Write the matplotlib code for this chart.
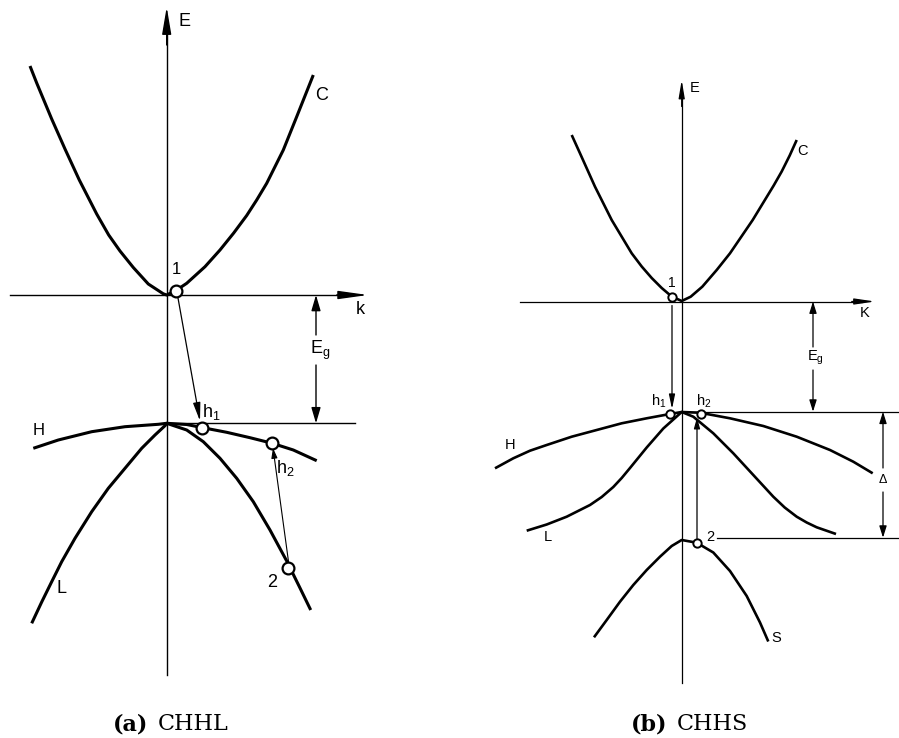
import matplotlib
matplotlib.use("Agg")
import matplotlib.pyplot as plt

plt.rcParams["font.family"] = ["Liberation Sans", "DejaVu Sans"]
plt.rcParams["mathtext.fontset"] = "custom"
plt.rcParams["mathtext.rm"] = "Liberation Sans"
plt.rcParams["mathtext.it"] = "Liberation Sans"

# ---------------- panel (a): CHHL ----------------
# bands as (k, E) samples, arbitrary units
a_C_k = [-13.67, -13.0, -11.5, -10.17, -8.74, -7.0, -5.8, -4.67, -3.34, -1.84, -0.34, 0.0,
         1.0, 2.0, 3.83, 5.33, 6.7, 8.0, 9.0, 10.0, 11.66, 13.0, 14.33, 14.66]
a_C_E = [22.9, 21.2, 17.6, 14.6, 11.5, 8.1, 6.0, 4.4, 2.75, 1.1, 0.12, 0.0,
         0.5, 1.17, 2.83, 4.5, 6.2, 7.95, 9.5, 11.17, 14.5, 17.83, 21.17, 22.0]
a_H_k = [-13.34, -10.84, -7.5, -4.17, -0.84, 0.0, 2.0, 3.5, 6.0, 8.33, 10.56, 12.66, 15.0]
a_H_E = [-15.33, -14.5, -13.67, -13.17, -12.93, -12.83, -12.95, -13.25, -13.73, -14.27,
         -14.83, -15.5, -16.57]
a_L_k = [-13.5, -12.5, -11.5, -10.5, -9.17, -7.5, -5.84, -4.17, -2.5, -1.17, -0.17, 0.0,
         2.0, 3.66, 5.33, 7.0, 8.66, 10.33, 12.0, 13.33, 14.4]
a_L_E = [-32.83, -30.7, -28.67, -26.67, -24.33, -21.67, -19.33, -17.33, -15.33, -14.0, -13.07,
         -12.83, -13.5, -14.67, -16.33, -18.33, -20.67, -23.5, -26.6, -29.3, -31.5]
a_Ev = -12.83            # valence band top
a_states_k = [0.93, 3.5, 10.56, 12.16]      # 1, h1, h2, 2
a_states_E = [0.4, -13.27, -14.83, -27.3]

# ---------------- panel (b): CHHS ----------------
b_C_k = [-11.0, -10.17, -8.67, -7.0, -5.0, -4.0, -3.0, -2.0, -1.0, 0.0,
         0.9, 2.06, 3.5, 4.83, 7.1, 9.2, 10.0, 10.8, 11.5]
b_C_E = [16.65, 14.82, 11.48, 8.15, 4.82, 3.5, 2.35, 1.35, 0.5, 0.05,
         0.48, 1.48, 3.15, 4.82, 8.15, 11.6, 13.0, 14.6, 16.15]
b_H_k = [-18.67, -16.84, -15.17, -13.5, -11.0, -8.5, -6.0, -3.5, -1.17, 0.0,
         1.83, 4.83, 8.16, 11.5, 14.83, 17.16, 19.1]
b_H_E = [-16.68, -15.68, -14.92, -14.35, -13.52, -12.85, -12.18, -11.68, -11.25, -11.05,
         -11.12, -11.68, -12.45, -13.52, -14.85, -16.02, -17.18]
b_L_k = [-15.5, -13.5, -11.5, -9.17, -8.0, -6.84, -6.0, -5.17, -3.5, -1.84, -0.5, 0.0,
         1.16, 3.16, 5.16, 7.16, 9.16, 10.3, 11.5, 12.5, 13.5, 15.43]
b_L_E = [-22.92, -22.3, -21.52, -20.35, -19.55, -18.55, -17.65, -16.65, -14.6, -12.7, -11.5,
         -11.05, -11.52, -13.18, -15.18, -17.35, -19.52, -20.6, -21.52, -22.1, -22.58, -23.25]
b_S_k = [-8.77, -7.5, -6.17, -4.84, -3.5, -2.17, -1.0, 0.0,
         1.5, 3.16, 4.83, 6.5, 7.83, 8.66]
b_S_E = [-33.58, -31.85, -30.02, -28.35, -26.85, -25.52, -24.45, -23.85,
         -24.12, -25.1, -26.95, -29.45, -32.1, -34.0]
b_Ev = -11.02            # valence band top
b_Eso = -23.62           # split-off band top
b_states_k = [-0.94, -1.17, 1.9, 1.5]       # 1, h1, h2, 2
b_states_E = [0.48, -11.2, -11.2, -24.12]

W, H = 899, 738
fig = plt.figure(figsize=(W / 100, H / 100), dpi=100)
fig.patch.set_facecolor("white")


def make_axes(left_px, width_px, x0, y0):
    ax = fig.add_axes([left_px / W, 0, width_px / W, 1])
    ax.set_xlim((left_px - x0) / 10, (left_px + width_px - x0) / 10)
    ax.set_ylim((y0 - H) / 10, y0 / 10)
    ax.axis("off")
    return ax


def arrow(ax, tail, tip, lw=0.9, hl=1.0, hw=0.2):
    ax.annotate("", xy=tip, xytext=tail,
                arrowprops=dict(arrowstyle=f"-|>,head_length={hl},head_width={hw}",
                                lw=lw, color="black", shrinkA=0, shrinkB=0,
                                mutation_scale=10))


def state(ax, k, E, ms, mew):
    ax.plot([k], [E], "o", ms=ms, mfc="white", mec="black", mew=mew, zorder=5)


# ---- (a)
ax = make_axes(0, 450, 166.7, 295.0)
band_lw = 2.2
for kk, ee in [(a_C_k, a_C_E), (a_H_k, a_H_E), (a_L_k, a_L_E)]:
    ax.plot(kk, ee, color="black", lw=band_lw, solid_joinstyle="round",
            solid_capstyle="butt")

# axes
ax.plot([0, 0], [-38.0, 27.0], color="black", lw=1.0)
arrow(ax, (0, 25.0), (0, 28.8), lw=1.0, hl=1.66, hw=0.28)
ax.plot([-15.67, 18.5], [0, 0], color="black", lw=1.0)
arrow(ax, (17.0, 0), (20.13, 0), lw=1.0, hl=1.8, hw=0.25)
ax.text(1.73, 27.3, "E", fontsize=13, ha="center", va="center")
ax.text(19.33, -1.5, "k", fontsize=13, ha="center", va="center")

# valence top line and gap arrow
ax.plot([0, 18.83], [a_Ev, a_Ev], color="black", lw=1.0)
arrow(ax, (14.93, -4.0), (14.93, 0), lw=1.0, hl=0.95, hw=0.28)
arrow(ax, (14.93, -7.0), (14.93, a_Ev), lw=1.0, hl=0.95, hw=0.28)
ax.text(15.33, -5.5, r"$\mathrm{E_g}$", fontsize=13, ha="center", va="center")

# transitions
arrow(ax, (1.13, -0.3), (3.33, -12.6), lw=0.9, hl=1.1, hw=0.22)
arrow(ax, (12.2, -26.8), (10.63, -15.3), lw=0.8, hl=0.6, hw=0.18)

for k, E in zip(a_states_k, a_states_E):
    state(ax, k, E, ms=8.5, mew=1.6)

ax.text(15.5, 20.0, "C", fontsize=13, ha="center", va="center")
ax.text(1.0, 2.5, "1", fontsize=12, ha="center", va="center")
ax.text(-12.84, -13.57, "H", fontsize=12, ha="center", va="center")
ax.text(-10.5, -29.33, "L", fontsize=13, ha="center", va="center")
ax.text(10.56, -28.77, "2", fontsize=13, ha="center", va="center")
ax.text(4.5, -11.67, r"$\mathrm{h_1}$", fontsize=13, ha="center", va="center")
ax.text(11.83, -17.33, r"$\mathrm{h_2}$", fontsize=13, ha="center", va="center")

# ---- (b)
bx = make_axes(450, 449, 681.7, 301.5)
band_lw = 1.9
for kk, ee in [(b_C_k, b_C_E), (b_H_k, b_H_E), (b_L_k, b_L_E), (b_S_k, b_S_E)]:
    bx.plot(kk, ee, color="black", lw=band_lw, solid_joinstyle="round",
            solid_capstyle="butt")

bx.plot([0, 0], [-38.15, 20.5], color="black", lw=0.9)
arrow(bx, (0, 19.5), (0, 22.15), lw=0.9, hl=1.08, hw=0.18)
bx.plot([-16.17, 18.0], [0, 0], color="black", lw=0.9)
arrow(bx, (17.0, 0), (19.33, 0), lw=0.9, hl=1.22, hw=0.18)
bx.text(1.33, 21.35, "E", fontsize=10.5, ha="center", va="center")
bx.text(18.33, -1.15, "K", fontsize=10.5, ha="center", va="center")

bx.plot([0, 21.73], [b_Ev, b_Ev], color="black", lw=0.9)
bx.plot([3.5, 21.73], [b_Eso, b_Eso], color="black", lw=0.9)
arrow(bx, (13.13, -4.55), (13.13, 0), lw=0.9, hl=0.7, hw=0.22)
arrow(bx, (13.13, -6.85), (13.13, b_Ev), lw=0.9, hl=0.7, hw=0.22)
bx.text(13.33, -5.6, r"$\mathrm{E_g}$", fontsize=10.5, ha="center", va="center")
arrow(bx, (20.13, -16.65), (20.13, b_Ev), lw=0.9, hl=0.7, hw=0.22)
arrow(bx, (20.13, -19.05), (20.13, b_Eso), lw=0.9, hl=0.7, hw=0.22)
bx.text(20.13, -17.85, "Δ", fontsize=9, ha="center", va="center")

# transitions
arrow(bx, (-0.97, -0.4), (-0.97, -10.75), lw=0.9, hl=0.86, hw=0.18)
arrow(bx, (1.53, -23.7), (1.53, -11.6), lw=0.9, hl=0.65, hw=0.18)

for k, E in zip(b_states_k, b_states_E):
    state(bx, k, E, ms=6.0, mew=1.4)

bx.text(12.06, 15.05, "C", fontsize=10.5, ha="center", va="center")
bx.text(-1.0, 1.88, "1", fontsize=10, ha="center", va="center")
bx.text(-17.17, -14.35, "H", fontsize=10.5, ha="center", va="center")
bx.text(-13.34, -23.52, "L", fontsize=10.5, ha="center", va="center")
bx.text(9.43, -33.68, "S", fontsize=10.5, ha="center", va="center")
bx.text(2.83, -23.52, "2", fontsize=10.5, ha="center", va="center")
bx.text(-2.34, -10.02, r"$\mathrm{h_1}$", fontsize=10.5, ha="center", va="center")
bx.text(2.23, -10.02, r"$\mathrm{h_2}$", fontsize=10.5, ha="center", va="center")

# captions
cap_font = "DejaVu Serif"
for xb, xr, lab, name in [(148, 158, "(a)", "CHHL"), (667, 677, "(b)", "CHHS")]:
    fig.text(xb / W, 1 - 730 / H, lab, fontsize=16, fontweight="bold", family=cap_font,
             ha="right", va="baseline")
    fig.text(xr / W, 1 - 730 / H, name, fontsize=16, family=cap_font,
             ha="left", va="baseline")

fig.savefig("out.png", dpi=100)
